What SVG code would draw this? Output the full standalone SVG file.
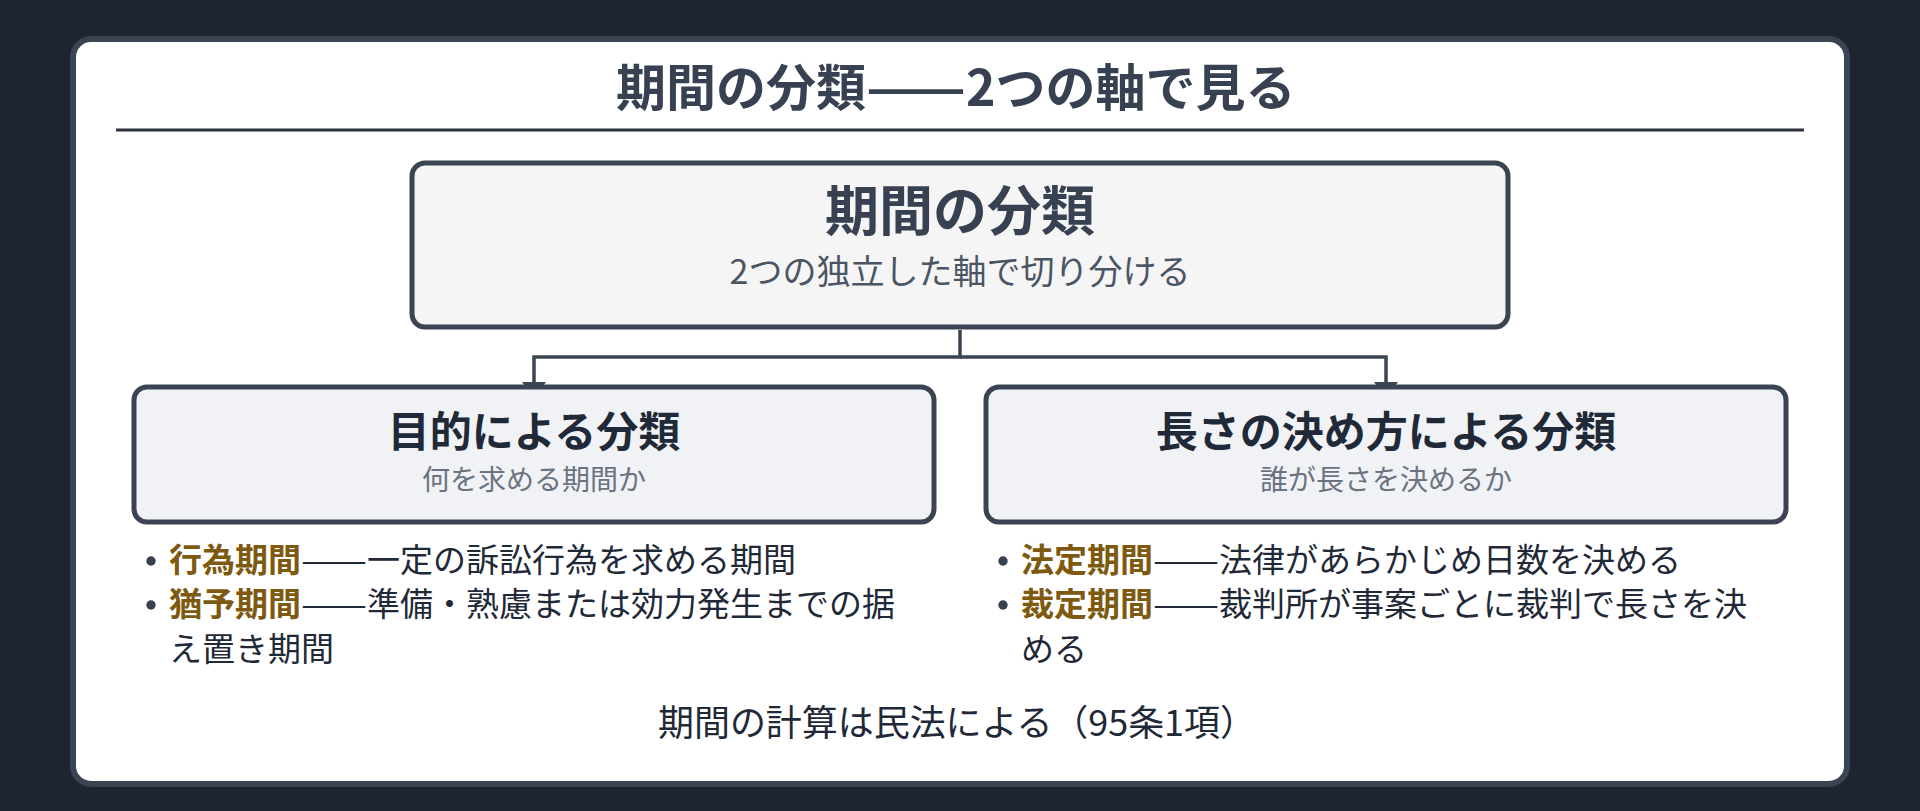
<svg xmlns="http://www.w3.org/2000/svg" width="1920" height="811" viewBox="0 0 1920 811">
<defs>
<style>
text{font-family:"Noto Sans CJK JP","Noto Sans",sans-serif;}
.title{font-size:50px;font-weight:700;fill:#374151;}
.node{stroke:#3a4453;stroke-width:5;}
.top{fill:#f5f5f6;}
.child{fill:#f0f2f6;}
.h1{font-size:54px;font-weight:700;fill:#374151;text-anchor:middle;}
.s1{font-size:34px;fill:#4b5563;text-anchor:middle;}
.h2{font-size:42px;font-weight:700;fill:#1f2937;text-anchor:middle;}
.s2{font-size:28px;fill:#6b7280;text-anchor:middle;}
.b{font-size:33px;fill:#1f2937;}
.term{font-weight:700;fill:#7d5a0f;}
.dot{fill:#374151;}
.conn{fill:none;stroke:#3a4453;stroke-width:3.5;}
.foot{font-size:36px;fill:#1f2937;text-anchor:middle;}
</style>
<marker id="arrh" markerUnits="userSpaceOnUse" markerWidth="16" markerHeight="24" refX="16" refY="12" orient="auto" viewBox="0 0 16 24">
<path d="M0,0 L16,12 L0,24 Z" fill="#3a4453"/>
</marker>
</defs>
<rect x="0" y="0" width="1920" height="811" fill="#1e2530"/>
<rect x="73" y="39" width="1774" height="745" rx="18" fill="#ffffff" stroke="#3a4453" stroke-width="6"/>
<g id="title">
<text class="title" x="616" y="106">期間の分類</text>
<text class="title" x="866" y="106" textLength="100" lengthAdjust="spacingAndGlyphs">——</text>
<text class="title" x="966" y="106">2つの軸で見る</text>
</g>
<line x1="116" y1="130" x2="1804" y2="130" stroke="#2d3340" stroke-width="3"/>
<g id="connectors">
<path class="conn" d="M960,330 V357 H534 V398" marker-end="url(#arrh)"/>
<path class="conn" d="M960,357 H1386 V398" marker-end="url(#arrh)"/>
</g>
<g id="node-root">
<rect class="node top" x="412" y="163" width="1096" height="164" rx="13"/>
<text class="h1" x="960" y="231">期間の分類</text>
<text class="s1" x="960" y="284">2つの独立した軸で切り分ける</text>
</g>
<g id="node-purpose">
<rect class="node child" x="134" y="387" width="800" height="135" rx="13"/>
<text class="h2" x="534" y="447">目的による分類</text>
<text class="s2" x="534" y="490">何を求める期間か</text>
</g>
<g id="node-length">
<rect class="node child" x="986" y="387" width="800" height="135" rx="13"/>
<text class="h2" x="1386" y="447">長さの決め方による分類</text>
<text class="s2" x="1386" y="490">誰が長さを決めるか</text>
</g>
<g id="list-purpose">
<circle class="dot" cx="151" cy="561" r="4.7"/>
<text class="b term" x="169" y="572">行為期間</text>
<text class="b" x="301" y="572" textLength="66" lengthAdjust="spacingAndGlyphs">——</text>
<text class="b" x="367" y="572">一定の訴訟行為を求める期間</text>
<circle class="dot" cx="151" cy="605" r="4.7"/>
<text class="b term" x="169" y="616">猶予期間</text>
<text class="b" x="301" y="616" textLength="66" lengthAdjust="spacingAndGlyphs">——</text>
<text class="b" x="367" y="616" textLength="528" lengthAdjust="spacing">準備・熟慮または効力発生までの据</text>
<text class="b" x="169" y="661">え置き期間</text>
</g>
<g id="list-length">
<circle class="dot" cx="1003" cy="561" r="4.7"/>
<text class="b term" x="1021" y="572">法定期間</text>
<text class="b" x="1153" y="572" textLength="66" lengthAdjust="spacingAndGlyphs">——</text>
<text class="b" x="1219" y="572">法律があらかじめ日数を決める</text>
<circle class="dot" cx="1003" cy="605" r="4.7"/>
<text class="b term" x="1021" y="616">裁定期間</text>
<text class="b" x="1153" y="616" textLength="66" lengthAdjust="spacingAndGlyphs">——</text>
<text class="b" x="1219" y="616" textLength="528" lengthAdjust="spacing">裁判所が事案ごとに裁判で長さを決</text>
<text class="b" x="1021" y="661">める</text>
</g>
<text class="foot" x="957" y="736" textLength="598" lengthAdjust="spacing">期間の計算は民法による（95条1項）</text>
</svg>
